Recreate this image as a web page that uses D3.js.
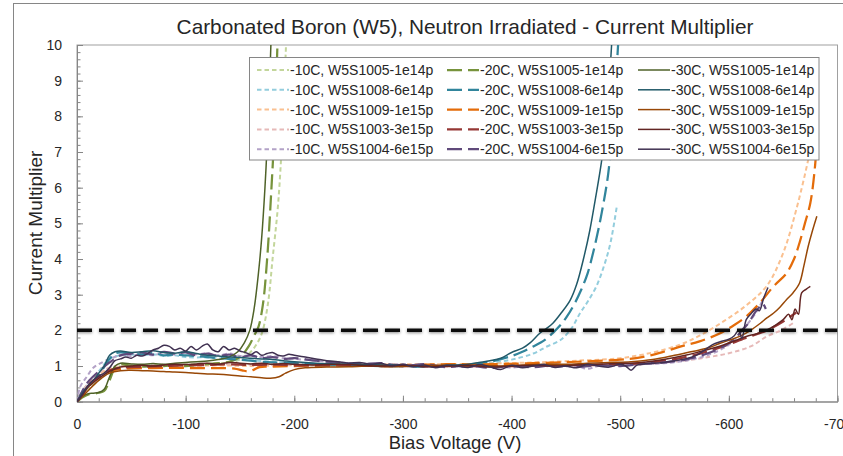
<!DOCTYPE html>
<html>
<head>
<meta charset="utf-8">
<script src="https://cdn.jsdelivr.net/npm/d3@7"></script>
<style>
  body { margin: 0; background: #fff; }
  svg { display: block; font-family: "Liberation Sans", Arial, sans-serif; }
</style>
</head>
<body>
<svg id="chart" width="843" height="456"></svg>
<script>
// bias voltage (V), current multiplier
var w1005_10 = [[0,0],[-5,0.2],[-10,0.35],[-20,0.6],[-30,0.85],[-40,1.0],[-50,1.02],[-60,1.0],[-70,1.03],[-80,1.02],[-90,1.05],[-100,1.04],[-110,1.06],[-120,1.07],[-130,1.08],[-140,1.1],[-150,1.18],[-160,1.4],[-167,1.7],[-171,2.0],[-176,2.8],[-180,4.0],[-185,5.5],[-189,7.5],[-193,10.5]];
var w1005_20 = [[0,0],[-5,0.12],[-10,0.2],[-20,0.25],[-25,0.3],[-30,0.6],[-35,0.95],[-40,1.05],[-50,1.0],[-60,0.98],[-70,1.0],[-80,1.0],[-90,1.02],[-100,1.0],[-110,1.03],[-120,1.05],[-130,1.08],[-140,1.12],[-150,1.25],[-158,1.55],[-163,1.85],[-167,2.1],[-171,2.7],[-175,4.0],[-179,6.0],[-182,7.8],[-185,10.5]];
var w1005_30 = [[0,0],[-5,0.15],[-10,0.22],[-15,0.24],[-20,0.26],[-25,0.35],[-30,0.7],[-35,1.0],[-40,1.08],[-50,1.06],[-60,1.05],[-70,1.07],[-80,1.05],[-90,1.08],[-100,1.1],[-110,1.12],[-120,1.14],[-130,1.18],[-140,1.25],[-148,1.4],[-154,1.65],[-159,2.0],[-163,2.6],[-167,3.6],[-170,4.6],[-173,6.0],[-175,7.2],[-177,8.7],[-179,10.5]];

var w1008_10 = [[0,0],[-5,0.3],[-10,0.5],[-20,0.85],[-30,1.2],[-40,1.3],[-50,1.32],[-60,1.3],[-70,1.33],[-80,1.28],[-90,1.3],[-100,1.25],[-120,1.24],[-140,1.2],[-160,1.16],[-180,1.12],[-200,1.08],[-220,1.05],[-240,1.03],[-260,1.0],[-280,1.02],[-300,1.0],[-320,0.98],[-340,1.0],[-360,1.02],[-380,1.08],[-400,1.18],[-420,1.35],[-432,1.54],[-445,1.73],[-455,2.05],[-463,2.48],[-470,2.8],[-478,3.23],[-485,3.8],[-491,4.45],[-497,5.5]];
var w1008_20 = [[0,0],[-5,0.2],[-10,0.4],[-20,0.75],[-30,1.2],[-35,1.35],[-40,1.38],[-50,1.35],[-60,1.33],[-70,1.36],[-80,1.3],[-90,1.32],[-100,1.3],[-110,1.28],[-120,1.25],[-130,1.22],[-140,1.2],[-150,1.18],[-160,1.15],[-170,1.12],[-180,1.1],[-200,1.08],[-220,1.05],[-240,1.03],[-260,1.02],[-280,1.0],[-300,1.0],[-320,0.98],[-340,1.0],[-360,1.03],[-380,1.12],[-400,1.28],[-410,1.4],[-420,1.55],[-430,1.72],[-438,1.93],[-445,2.15],[-451,2.39],[-458,2.75],[-464,3.13],[-470,3.6],[-475,4.17],[-479,4.7],[-483,5.3],[-489,6.4],[-493,7.8],[-496,9.0],[-499,10.5]];
var w1008_30 = [[0,0],[-5,0.25],[-10,0.45],[-15,0.6],[-20,0.8],[-25,1.0],[-30,1.3],[-35,1.4],[-40,1.42],[-50,1.38],[-60,1.4],[-70,1.43],[-80,1.38],[-90,1.36],[-100,1.4],[-110,1.35],[-120,1.3],[-130,1.28],[-140,1.25],[-150,1.24],[-160,1.22],[-170,1.2],[-180,1.18],[-190,1.15],[-200,1.12],[-220,1.08],[-240,1.06],[-260,1.05],[-280,1.03],[-300,1.02],[-320,1.0],[-340,1.02],[-360,1.05],[-370,1.1],[-380,1.15],[-390,1.22],[-400,1.38],[-410,1.5],[-417,1.65],[-426,1.92],[-432,2.05],[-438,2.2],[-446,2.5],[-454,2.85],[-460,3.3],[-466,3.98],[-472,4.8],[-477,5.66],[-483,6.78],[-487,7.9],[-490,9.0],[-493,10.5]];

var w1009_10 = [[0,0],[-5,0.25],[-10,0.45],[-20,0.75],[-30,0.92],[-40,0.98],[-60,1.0],[-80,1.02],[-100,1.0],[-130,1.02],[-160,1.0],[-190,1.02],[-220,1.03],[-260,1.03],[-300,1.05],[-340,1.05],[-380,1.07],[-420,1.1],[-460,1.15],[-500,1.22],[-530,1.38],[-555,1.6],[-573,1.85],[-595,2.25],[-616,2.7],[-635,3.25],[-650,4.17],[-662,5.38],[-673,6.78],[-678,7.6]];
var w1009_20 = [[0,0],[-5,0.2],[-10,0.4],[-20,0.7],[-30,0.85],[-40,0.92],[-50,0.94],[-70,0.94],[-90,0.95],[-110,0.94],[-130,0.94],[-145,0.93],[-152,0.88],[-158,0.85],[-163,0.9],[-168,0.97],[-180,0.98],[-200,1.0],[-230,1.02],[-260,1.03],[-300,1.02],[-340,1.05],[-380,1.05],[-420,1.08],[-460,1.12],[-500,1.18],[-520,1.25],[-540,1.4],[-556,1.55],[-573,1.69],[-592,1.92],[-605,2.15],[-616,2.39],[-628,2.75],[-641,3.23],[-653,3.6],[-660,4.0],[-665,4.45],[-670,5.0],[-675,5.57],[-679,6.5],[-681,7.3]];
var w1009_30 = [[0,0],[-5,0.15],[-10,0.3],[-20,0.6],[-30,0.8],[-40,0.87],[-50,0.88],[-60,0.87],[-70,0.86],[-80,0.85],[-90,0.83],[-100,0.82],[-110,0.8],[-120,0.78],[-130,0.77],[-140,0.75],[-150,0.72],[-160,0.7],[-170,0.67],[-178,0.66],[-186,0.7],[-192,0.8],[-200,0.9],[-210,0.95],[-230,0.97],[-250,0.98],[-270,1.0],[-290,0.98],[-310,1.0],[-330,1.02],[-350,1.0],[-370,1.02],[-390,1.0],[-410,1.03],[-430,1.05],[-450,1.05],[-470,1.08],[-490,1.1],[-510,1.12],[-530,1.18],[-550,1.3],[-562,1.38],[-573,1.45],[-582,1.52],[-592,1.64],[-600,1.72],[-610,1.83],[-620,2.0],[-629,2.2],[-635,2.35],[-641,2.48],[-647,2.65],[-653,2.86],[-659,3.05],[-665,3.32],[-669,3.8],[-673,4.35],[-677,4.8],[-681,5.2]];

var w1003_10 = [[0,0],[-5,0.3],[-10,0.5],[-20,0.8],[-30,0.95],[-40,1.0],[-60,1.02],[-80,1.04],[-100,1.03],[-130,1.05],[-160,1.04],[-190,1.03],[-220,1.02],[-260,1.0],[-300,1.0],[-340,0.99],[-380,1.0],[-420,1.01],[-460,1.02],[-500,1.03],[-520,1.05],[-550,1.12],[-575,1.22],[-600,1.36],[-620,1.55],[-635,1.83],[-648,2.0],[-659,2.2]];
var w1003_20 = [[0,0],[-5,0.2],[-10,0.45],[-20,0.7],[-30,0.88],[-40,0.95],[-60,0.98],[-80,1.0],[-100,1.02],[-120,1.03],[-140,1.05],[-160,1.03],[-180,1.04],[-200,1.02],[-240,1.02],[-280,1.0],[-320,1.0],[-360,1.0],[-400,1.0],[-440,1.02],[-480,1.03],[-520,1.08],[-560,1.25],[-590,1.5],[-615,1.78],[-635,2.0],[-650,2.25],[-662,2.5]];
var w1003_30 = [[0,0],[-5,0.2],[-10,0.4],[-20,0.65],[-30,0.85],[-40,0.97],[-50,1.0],[-60,1.02],[-70,1.0],[-80,1.03],[-90,1.05],[-100,1.04],[-110,1.06],[-120,1.08],[-130,1.05],[-140,1.1],[-150,1.08],[-160,1.06],[-170,1.08],[-180,1.05],[-190,1.07],[-200,1.05],[-220,1.03],[-240,1.05],[-260,1.02],[-280,1.0],[-300,1.02],[-320,0.98],[-340,1.0],[-360,1.02],[-380,0.97],[-400,1.0],[-420,1.02],[-440,1.0],[-460,1.03],[-480,1.05],[-500,1.07],[-520,1.1],[-540,1.18],[-560,1.3],[-573,1.4],[-585,1.5],[-595,1.59],[-605,1.7],[-616,1.83],[-625,1.9],[-635,2.01],[-643,2.15],[-650,2.3],[-655,2.45],[-658,2.3],[-661,2.6],[-664,2.45],[-667,3.05],[-671,3.15],[-675,3.23]];

var w1004_10 = [[0,0],[-3,0.42],[-9,0.7],[-15,0.95],[-20,1.05],[-30,1.2],[-40,1.3],[-50,1.28],[-60,1.35],[-70,1.3],[-80,1.38],[-90,1.32],[-100,1.4],[-110,1.33],[-120,1.36],[-130,1.3],[-140,1.35],[-150,1.28],[-160,1.3],[-170,1.25],[-180,1.28],[-190,1.22],[-200,1.2],[-220,1.15],[-240,1.1],[-260,1.06],[-280,1.02],[-300,1.05],[-320,0.98],[-340,1.02],[-360,0.97],[-380,1.0],[-400,0.96],[-420,1.02],[-440,0.98],[-460,1.0],[-470,0.92],[-480,1.0],[-500,1.0],[-520,1.05],[-540,1.08],[-560,1.15],[-580,1.3],[-600,1.6],[-615,2.1],[-625,2.5],[-633,2.95]];
var w1004_20 = [[0,0],[-5,0.3],[-10,0.55],[-20,0.85],[-30,1.1],[-40,1.3],[-50,1.35],[-60,1.38],[-70,1.32],[-80,1.4],[-90,1.35],[-100,1.38],[-110,1.3],[-120,1.35],[-130,1.28],[-140,1.32],[-150,1.25],[-160,1.3],[-170,1.22],[-180,1.25],[-190,1.2],[-200,1.22],[-220,1.15],[-240,1.1],[-260,1.05],[-280,1.08],[-300,1.0],[-320,1.05],[-340,0.97],[-360,1.02],[-380,0.95],[-400,1.0],[-420,0.97],[-440,1.03],[-460,0.98],[-480,1.02],[-500,1.0],[-520,1.06],[-540,1.1],[-560,1.18],[-580,1.35],[-595,1.55],[-605,1.75],[-612,2.0],[-618,2.2],[-624,2.5],[-628,2.65],[-631,2.75],[-634,2.6]];
var w1004_30 = [[0,0],[-5,0.2],[-10,0.45],[-15,0.6],[-20,0.72],[-25,0.8],[-30,0.95],[-35,1.15],[-40,1.2],[-45,1.25],[-50,1.22],[-55,1.3],[-60,1.28],[-65,1.35],[-70,1.45],[-75,1.5],[-80,1.58],[-85,1.55],[-90,1.45],[-95,1.5],[-100,1.42],[-105,1.55],[-110,1.45],[-115,1.55],[-120,1.62],[-125,1.45],[-130,1.4],[-135,1.55],[-140,1.45],[-145,1.5],[-150,1.42],[-155,1.38],[-160,1.32],[-165,1.4],[-170,1.3],[-175,1.35],[-180,1.38],[-185,1.3],[-190,1.28],[-195,1.33],[-200,1.3],[-210,1.25],[-220,1.2],[-230,1.15],[-240,1.12],[-250,1.08],[-260,1.1],[-270,1.05],[-280,1.08],[-290,1.0],[-300,1.05],[-310,0.98],[-320,1.03],[-330,0.95],[-340,1.02],[-350,1.0],[-360,0.96],[-370,1.04],[-380,0.98],[-390,0.9],[-400,1.02],[-410,0.95],[-420,1.0],[-430,1.04],[-440,0.96],[-450,1.0],[-460,0.95],[-470,1.05],[-480,1.0],[-490,0.97],[-500,1.05],[-505,1.0],[-510,0.88],[-515,1.02],[-520,1.05],[-530,1.08],[-540,1.1],[-550,1.15],[-560,1.2],[-570,1.3],[-578,1.45],[-585,1.6],[-592,1.68],[-600,1.75],[-605,1.85],[-609,2.0],[-612,1.78],[-616,2.3],[-620,2.45],[-625,2.6],[-628,2.55],[-632,2.9],[-636,3.2]];

var samples = ["W5S1005-1e14p", "W5S1008-6e14p", "W5S1009-1e15p", "W5S1003-3e15p", "W5S1004-6e15p"];
var temps = ["-10C", "-20C", "-30C"];
var xTicks = [0, -100, -200, -300, -400, -500, -600, -700];
var yTicks = [0, 1, 2, 3, 4, 5, 6, 7, 8, 9, 10];
var threshold = 2;

var seriesData = [
  [w1005_10, w1005_20, w1005_30],
  [w1008_10, w1008_20, w1008_30],
  [w1009_10, w1009_20, w1009_30],
  [w1003_10, w1003_20, w1003_30],
  [w1004_10, w1004_20, w1004_30]
];
// light / darker 25% / darker 50% of excel accent colours
var colors = [
  ["#c3d69b", "#77933c", "#4f6228"],
  ["#93cddd", "#31859c", "#215968"],
  ["#fac090", "#e46c0a", "#984807"],
  ["#e6b9b8", "#953735", "#632523"],
  ["#b3a2c7", "#604a7b", "#403151"]
];
var dashes = ["4.5,3", "15,6", null];
var widths = [2, 2.25, 1.5];

var svg = d3.select("#chart");
var pL = 77, pR = 837.5, pT = 45, pB = 401.7;

var x = d3.scaleLinear().domain([0, -700]).range([pL, pR]);
var y = d3.scaleLinear().domain([0, 10]).range([pB, pT]);

var defs = svg.append("defs");
defs.append("clipPath").attr("id", "plotclip")
  .append("rect").attr("x", pL).attr("y", pT).attr("width", pR - pL).attr("height", pB - pT);
var f = defs.append("filter").attr("id", "shadow").attr("filterUnits", "userSpaceOnUse")
  .attr("x", 60).attr("y", y(threshold) - 12).attr("width", 800).attr("height", 24);
f.append("feDropShadow").attr("dx", 0).attr("dy", 1).attr("stdDeviation", 1.6)
  .attr("flood-color", "#000").attr("flood-opacity", 0.45);

// outer chart frame
svg.append("rect").attr("x", 13.5).attr("y", 3.5).attr("width", 900).attr("height", 500)
  .attr("fill", "none").attr("stroke", "#868686");

svg.append("text").attr("x", 465).attr("y", 34).attr("text-anchor", "middle")
  .attr("font-size", 20.8).attr("fill", "#262626")
  .text("Carbonated Boron (W5), Neutron Irradiated - Current Multiplier");

// plot border
svg.append("rect").attr("x", pL).attr("y", pT).attr("width", pR - pL).attr("height", pB - pT)
  .attr("fill", "none").attr("stroke", "#a0a0a0");

// minor ticks
var xMinor = d3.range(0, -701, -20);
var yMinor = d3.range(0, 10.01, 0.2);
svg.append("g").attr("transform", "translate(0," + pB + ")")
  .call(d3.axisBottom(x).tickValues(xMinor).tickSize(-3.5).tickFormat(""))
  .call(function(g){ g.select(".domain").remove(); g.selectAll("line").attr("stroke", "#868686"); });
svg.append("g").attr("transform", "translate(" + pL + ",0)")
  .call(d3.axisLeft(y).tickValues(yMinor).tickSize(-3.5).tickFormat(""))
  .call(function(g){ g.select(".domain").remove(); g.selectAll("line").attr("stroke", "#868686"); });

var xAxis = svg.append("g").attr("transform", "translate(0," + pB + ")")
  .call(d3.axisBottom(x).tickValues(xTicks).tickSizeInner(-6).tickSizeOuter(0).tickPadding(17)
    .tickFormat(function(d){ return d === 0 ? "0" : String(d); }));
xAxis.select(".domain").attr("stroke", "#868686");
xAxis.selectAll("line").attr("stroke", "#868686");
xAxis.selectAll("text").attr("font-size", 14).attr("fill", "#262626").attr("font-family", null);

var yAxis = svg.append("g").attr("transform", "translate(" + pL + ",0)")
  .call(d3.axisLeft(y).tickValues(yTicks).tickSizeInner(-6).tickSizeOuter(0).tickPadding(15));
yAxis.select(".domain").attr("stroke", "#868686");
yAxis.selectAll("line").attr("stroke", "#868686");
yAxis.selectAll("text").attr("font-size", 14).attr("fill", "#262626").attr("font-family", null);

svg.append("text").attr("x", 455).attr("y", 449).attr("text-anchor", "middle")
  .attr("font-size", 18.5).attr("fill", "#262626").text("Bias Voltage (V)");
svg.append("text").attr("transform", "translate(42,223) rotate(-90)").attr("text-anchor", "middle")
  .attr("font-size", 19).attr("fill", "#262626").text("Current Multiplier");

var line = d3.line()
  .x(function(d){ return x(d[0]); })
  .y(function(d){ return y(d[1]); })
  .curve(d3.curveCatmullRom.alpha(0.5));

var plot = svg.append("g").attr("clip-path", "url(#plotclip)");
for (var t = 0; t < 3; t++) {
  for (var s = 0; s < samples.length; s++) {
    plot.append("path")
      .datum(seriesData[s][t])
      .attr("d", line)
      .attr("fill", "none")
      .attr("stroke", colors[s][t])
      .attr("stroke-width", widths[t])
      .attr("stroke-dasharray", dashes[t]);
  }
}

plot.append("line")
  .attr("x1", x(0)).attr("x2", x(-700))
  .attr("y1", y(threshold)).attr("y2", y(threshold))
  .attr("stroke", "#111").attr("stroke-width", 3.5)
  .attr("stroke-dasharray", "15,7")
  .attr("filter", "url(#shadow)");

// legend
var lg = svg.append("g");
lg.append("rect").attr("x", 249.5).attr("y", 57.5).attr("width", 569.5).attr("height", 102.5)
  .attr("fill", "#fff").attr("stroke", "#868686");
var colX = [257, 447, 638];
for (var t = 0; t < 3; t++) {
  for (var s = 0; s < samples.length; s++) {
    var ry = 70 + s * 19.8;
    lg.append("line")
      .attr("x1", colX[t]).attr("x2", colX[t] + 32)
      .attr("y1", ry).attr("y2", ry)
      .attr("stroke", colors[s][t])
      .attr("stroke-width", widths[t])
      .attr("stroke-dasharray", dashes[t]);
    lg.append("text")
      .attr("x", colX[t] + 33).attr("y", ry + 5)
      .attr("font-size", 14).attr("fill", "#262626")
      .text(temps[t] + ", " + samples[s]);
  }
}
</script>
</body>
</html>
